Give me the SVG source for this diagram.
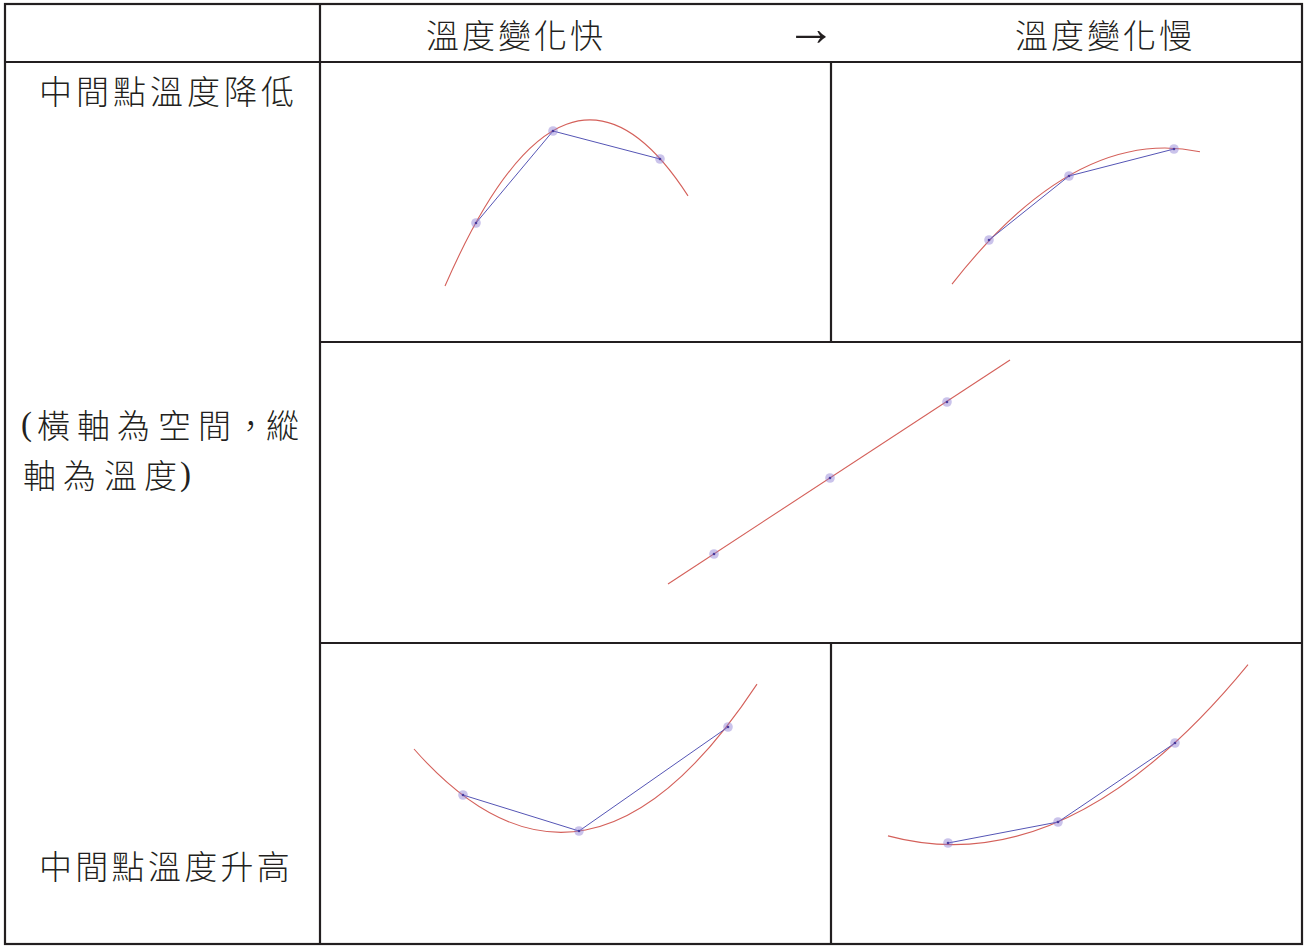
<svg xmlns="http://www.w3.org/2000/svg" width="1307" height="947" viewBox="0 0 1307 947">
<style>
.grid{stroke:#231f20;stroke-width:2.2;fill:none}
.t{font-family:"Noto Sans CJK TC","Noto Sans CJK JP",sans-serif;font-size:33px;font-weight:300;fill:#231f20;dominant-baseline:central}
.lat{font-family:"Liberation Serif",serif;font-weight:400}
.arrow{font-size:50px}
.curve{stroke:#d4605a;stroke-width:1.1;fill:none}
.poly{stroke:#5555b5;stroke-width:1;fill:none}
.halo{fill:#8a7bd3;fill-opacity:0.45}
.core{fill:#4a3b9c}
</style>
<defs>
<g id="dot"><circle r="4.8" class="halo"/><circle r="1.3" class="core"/></g>
</defs>
<rect width="1307" height="947" fill="#fff"/>
<g id="table">
<rect class="grid" x="5" y="4" width="1297" height="940"/>
<line class="grid" x1="5" y1="62" x2="1302" y2="62"/>
<line class="grid" x1="320" y1="4" x2="320" y2="944"/>
<line class="grid" x1="320" y1="342" x2="1302" y2="342"/>
<line class="grid" x1="320" y1="643" x2="1302" y2="643"/>
<line class="grid" x1="831" y1="62" x2="831" y2="342"/>
<line class="grid" x1="831" y1="643" x2="831" y2="944"/>
</g>
<g id="header">
<text class="t" x="426" y="34" letter-spacing="3">溫度變化快</text>
<text class="t lat arrow" x="811" y="28" text-anchor="middle">→</text>
<text class="t" x="1015" y="34" letter-spacing="3">溫度變化慢</text>
</g>
<g id="row-labels">
<text class="t" x="39" y="90" letter-spacing="4">中間點溫度降低</text>
<text class="t" y="424"><tspan class="lat" x="21">(</tspan><tspan x="37 77 117 158 198 234 266">橫軸為空間，縱</tspan></text>
<text class="t" y="474"><tspan x="23 63 104 144">軸為溫度</tspan><tspan class="lat" x="180">)</tspan></text>
<text class="t" x="39" y="865" letter-spacing="3.3">中間點溫度升高</text>
</g>
<g id="cell-fast-down">
<path class="curve" d="M445,286 Q566.5,7.6 688,195.9"/>
<polyline class="poly" points="476,223 553,131 660,159"/>
<use href="#dot" x="476" y="223"/><use href="#dot" x="553" y="131"/><use href="#dot" x="660" y="159"/>
</g>
<g id="cell-slow-down">
<path class="curve" d="M952,284.1 Q1076,125.6 1200,151.7"/>
<polyline class="poly" points="989,240 1069,176 1174,149"/>
<use href="#dot" x="989" y="240"/><use href="#dot" x="1069" y="176"/><use href="#dot" x="1174" y="149"/>
</g>
<g id="cell-linear">
<path class="curve" d="M668,584 L1010,360"/>
<use href="#dot" x="714" y="554"/><use href="#dot" x="830" y="478"/><use href="#dot" x="947" y="402"/>
</g>
<g id="cell-fast-up">
<path class="curve" d="M414,749 Q585.5,943.5 757,684.1"/>
<polyline class="poly" points="463,795 579,831 728,727"/>
<use href="#dot" x="463" y="795"/><use href="#dot" x="579" y="831"/><use href="#dot" x="728" y="727"/>
</g>
<g id="cell-slow-up">
<path class="curve" d="M888,835.9 Q1068,884.3 1248,664.7"/>
<polyline class="poly" points="948,843 1058,822 1175,743"/>
<use href="#dot" x="948" y="843"/><use href="#dot" x="1058" y="822"/><use href="#dot" x="1175" y="743"/>
</g>
</svg>
